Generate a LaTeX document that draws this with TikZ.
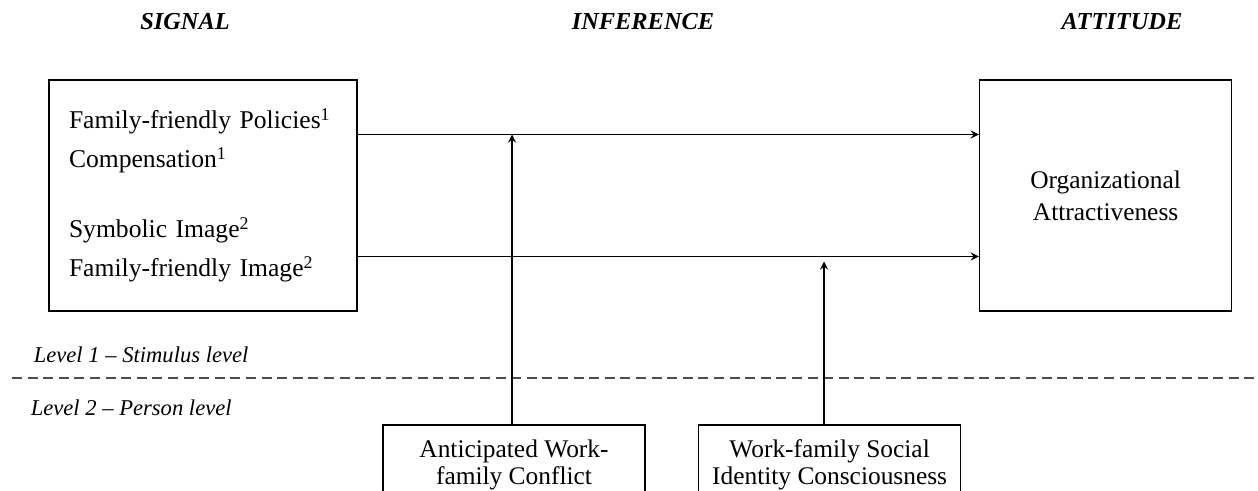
\documentclass[tikz,border=0pt]{standalone}
\usepackage{fontspec}
\setmainfont{Liberation Serif}
\usepackage{tikz}
\usetikzlibrary{positioning}

\begin{document}
\begin{tikzpicture}[>=stealth, x=0.5pt, y=0.5pt, line width=0.8pt,
  caja/.style={draw, minimum height=115.5pt, inner sep=10pt},
  cajabaja/.style={draw, minimum width=131pt, minimum height=40pt, align=center, anchor=north,
    font=\fontsize{12.7}{13.5}\selectfont},
  titulo/.style={font=\fontsize{12.2}{14}\selectfont\bfseries\itshape},
  nivel/.style={anchor=west, inner sep=0pt, font=\fontsize{11.3}{12}\selectfont\itshape}]
  \useasboundingbox (0,0) rectangle (1258,491);
  \clip (0,0) rectangle (1258,491);

  % Encabezados
  \node[titulo] (hsignal) at (185,469) {SIGNAL};
  \node[titulo] (hinfer) at (643,469) {INFERENCE};
  \node[titulo] (hattit) at (1122,469) {ATTITUDE};

  % Caja de senales
  \node[caja, text width=134pt, align=left, font=\fontsize{12.8}{19.5}\selectfont] (sig) at (203,295.5)
    {Family-friendly Policies\textsuperscript{1}\\
     Compensation\textsuperscript{1}\\[15.5pt]
     Symbolic Image\textsuperscript{2}\\
     Family-friendly Image\textsuperscript{2}};

  % Caja de actitud
  \node[caja, minimum width=126pt, align=center, font=\fontsize{12.7}{16}\selectfont, right=310.5pt of sig] (att)
    {Organizational\\Attractiveness};

  % Cajas del nivel persona
  \node[cajabaja] (conf) at (514,67) {Anticipated Work-\\family Conflict};
  \node[cajabaja, right=26pt of conf.north east, anchor=north west] (ident) {Work-family Social\\Identity Consciousness};

  % Niveles
  \draw[dashed, dash pattern=on 5pt off 2.8pt, draw=black!70] (12,113) -- (1258,113);
  \node[nivel] (lvl1) at (33,136) {Level 1 -- Stimulus level};
  \node[nivel] (lvl2) at (30,83) {Level 2 -- Person level};

  % Flechas
  \coordinate (p1) at ([yshift=30.5pt]sig.east);
  \coordinate (p2) at ([yshift=-30.5pt]sig.east);
  \draw[->] (p1) -- (p1 -| att.west);
  \draw[->] (p2) -- (p2 -| att.west);
  \draw[->] ([xshift=-1pt]conf.north) -- ([xshift=-1pt]conf.north |- p1);
  \draw[->] ([xshift=-2.75pt]ident.north) -- ([xshift=-2.75pt,yshift=-2.5pt]ident.north |- p2);
\end{tikzpicture}
\end{document}
